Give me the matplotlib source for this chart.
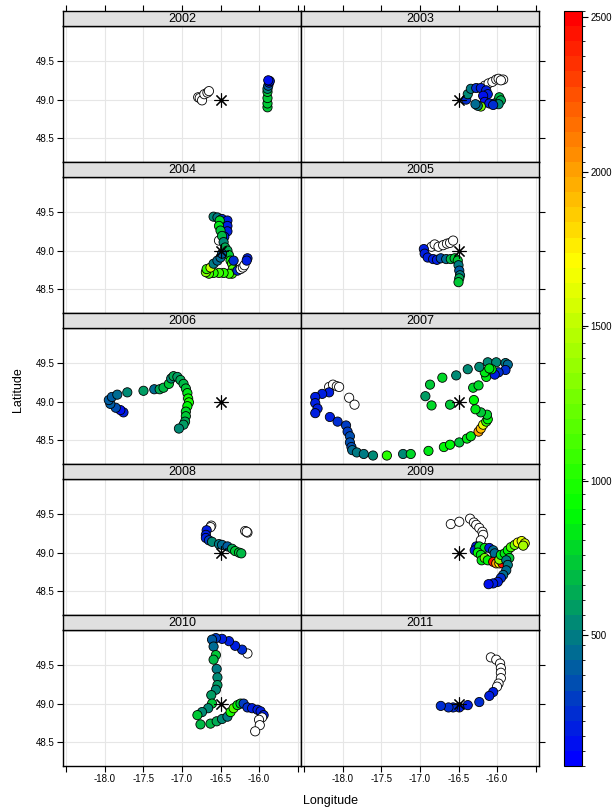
import numpy as np
import matplotlib
matplotlib.use("Agg")
import matplotlib.pyplot as plt
from matplotlib.colors import LinearSegmentedColormap, BoundaryNorm
from matplotlib.colorbar import ColorbarBase

plt.rcParams['font.family'] = ['Liberation Sans', 'DejaVu Sans']

nan = np.nan
STATION = (-16.5, 49.0)

##############################
# DATA (per year: lon, lat, value; nan = no value -> open circle)
##############################
lon_2002 = [-16.79, -16.77, -16.74, -16.71, -16.67, -16.65,
            -15.89, -15.89, -15.89, -15.89, -15.89, -15.88, -15.87, -15.86, -15.88]
lat_2002 = [49.03, 49.02, 48.99, 49.07, 49.09, 49.11,
            48.90, 48.95, 49.02, 49.10, 49.14, 49.18, 49.22, 49.24, 49.25]
val_2002 = [nan, nan, nan, nan, nan, nan,
            760, 760, 740, 720, 560, 400, 200, 180, 150]

lon_2003 = [-16.16, -16.11, -16.06, -16.01, -15.98, -15.92, -15.95,
            -16.40, -16.38, -16.34, -16.27, -16.21, -16.14, -16.12, -16.18, -16.16, -16.10,
            -16.03, -15.98, -15.97, -15.95, -15.98, -16.05, -16.21, -16.25, -16.28]
lat_2003 = [49.18, 49.21, 49.23, 49.26, 49.27, 49.26, 49.25,
            49.00, 49.07, 49.14, 49.15, 49.15, 49.12, 49.07, 49.05, 48.97, 48.95,
            48.95, 48.99, 49.03, 48.99, 48.94, 48.93, 48.91, 48.92, 48.94]
val_2003 = [nan, nan, nan, nan, nan, nan, nan,
            250, 520, 480, 230, 200, 210, 190, 170, 150, 180,
            200, 720, 680, 620, 520, 260, 1250, 480, 430]

lon_2004 = [-16.59, -16.54, -16.48, -16.41, -16.41, -16.41, -16.45, -16.48, -16.52,
            -16.51, -16.52, -16.50, -16.48, -16.46, -16.44, -16.41, -16.39, -16.37,
            -16.35, -16.34, -16.35, -16.39, -16.46, -16.52, -16.59, -16.65, -16.69,
            -16.68, -16.63, -16.59, -16.54, -16.50, -16.48, -16.33, -16.28, -16.24,
            -16.21, -16.19, -16.15, -16.16]
lat_2004 = [49.44, 49.43, 49.41, 49.39, 49.32, 49.25, 49.18, 49.14, 49.13,
            49.39, 49.32, 49.26, 49.19, 49.11, 49.04, 49.00, 48.94, 48.87,
            48.83, 48.76, 48.70, 48.70, 48.71, 48.71, 48.71, 48.70, 48.72,
            48.76, 48.78, 48.83, 48.87, 48.91, 48.96, 48.87, 48.74, 48.76,
            48.78, 48.81, 48.90, 48.87]
val_2004 = [520, 470, 260, 220, 210, 200, 190, 180, nan,
            800, 850, 760, 700, 560, 650, 620, 760, 950,
            1100, 1150, 1150, 1100, 1050, 1100, 1050, 1150, 1300,
            1100, 1500, 480, 430, 420, 380, 230, 250, nan,
            nan, nan, 220, 200]

lon_2005 = [-16.85, -16.81, -16.76, -16.70, -16.65, -16.61, -16.57,
            -16.95, -16.94, -16.90, -16.83, -16.78, -16.73, -16.66, -16.60,
            -16.55, -16.51, -16.50, -16.49, -16.48, -16.49, -16.50]
lat_2005 = [49.05, 49.08, 49.05, 49.07, 49.09, 49.10, 49.13,
            49.02, 48.96, 48.91, 48.89, 48.88, 48.90, 48.89, 48.89,
            48.90, 48.87, 48.81, 48.74, 48.68, 48.64, 48.59]
val_2005 = [nan, nan, nan, nan, nan, nan, nan,
            200, 190, 200, 210, 220, 330, 420, 680,
            720, 740, 470, 380, 500, 620, 760]

lon_2006 = [-17.76, -17.80, -17.86, -17.93, -17.95, -17.91, -17.84, -17.71, -17.50,
            -17.36, -17.29, -17.24, -17.17, -17.14, -17.11, -17.06, -17.02, -16.98,
            -16.95, -16.93, -16.92, -16.91, -16.93, -16.95, -16.95, -16.96, -16.98, -17.04]
lat_2006 = [48.86, 48.89, 48.92, 48.97, 49.02, 49.06, 49.09, 49.12, 49.14,
            49.16, 49.16, 49.18, 49.23, 49.30, 49.33, 49.32, 49.28, 49.23,
            49.17, 49.11, 49.04, 48.99, 48.94, 48.87, 48.81, 48.74, 48.70, 48.65]
val_2006 = [180, 160, 360, 380, 390, 400, 420, 560, 600,
            450, 660, 700, 760, 560, 620, 600, 640, 700,
            760, 820, 950, 1000, 900, 800, 740, 660, 600, 560]

lon_2007 = [-18.18, -18.13, -18.08, -18.05, -17.92, -17.85,
            -18.18, -18.27, -18.36, -18.36, -18.33, -18.36, -18.17, -18.07, -17.96, -17.94,
            -17.91, -17.91, -17.89, -17.88, -17.82, -17.73, -17.61, -17.43, -17.22, -17.12,
            -16.89, -16.69, -16.61, -16.49, -16.39, -16.34, -16.24, -16.21, -16.18, -16.14,
            -16.12, -16.13, -16.21, -16.28, -16.30, -16.31, -16.24, -16.14, -16.16, -16.23,
            -16.12, -16.01, -15.89, -15.86, -15.89, -15.98, -16.03, -16.07, -16.10,
            -16.93, -16.87, -16.85, -16.71, -16.61, -16.53, -16.38]
lat_2007 = [49.19, 49.22, 49.20, 49.19, 49.05, 48.96,
            49.12, 49.10, 49.06, 48.98, 48.91, 48.85, 48.80, 48.74, 48.69, 48.61,
            48.55, 48.47, 48.41, 48.37, 48.34, 48.32, 48.30, 48.30, 48.32, 48.32,
            48.36, 48.41, 48.44, 48.47, 48.52, 48.55, 48.61, 48.65, 48.70, 48.74,
            48.77, 48.83, 48.86, 48.90, 49.02, 49.18, 49.21, 49.32, 49.38, 49.45,
            49.51, 49.51, 49.50, 49.48, 49.41, 49.38, 49.35, 49.42, 49.43,
            49.07, 49.22, 48.95, 49.31, 48.96, 49.34, 49.42]
val_2007 = [nan, nan, nan, nan, nan, nan,
            190, 200, 190, 180, 200, 210, 220, 250, 300, 320,
            330, 340, 350, 420, 470, 480, 520, 1050, 560, 800,
            820, 860, 880, 760, 820, 850, 2000, 1900, 1600, 1100,
            860, 780, 760, 820, 860, 800, 780, 820, 850, 560,
            560, 540, 480, 420, 250, 230, 220, 900, 850,
            580, 760, 780, 800, 760, 560, 560]

lon_2008 = [-16.62, -16.63, -16.18, -16.15, -16.16,
            -16.68, -16.69, -16.69, -16.65, -16.61, -16.52, -16.48, -16.41, -16.35,
            -16.31, -16.26, -16.23]
lat_2008 = [49.35, 49.33, 49.28, 49.26, 49.27,
            49.29, 49.23, 49.19, 49.16, 49.14, 49.11, 49.10, 49.08, 49.05,
            49.02, 49.00, 48.99]
val_2008 = [nan, nan, nan, nan, nan,
            180, 190, 200, 300, 520, 500, 460, 380, 640,
            720, 740, 700]

lon_2009 = [-16.60, -16.49, -16.35, -16.30, -16.27, -16.23, -16.19, -16.18, -16.21,
            -16.27, -16.29, -16.23, -16.16, -16.10, -16.05, -16.03, -16.25, -16.21,
            -16.20, -16.16, -16.12, -16.05, -16.01, -15.97, -15.93, -15.97, -15.95,
            -15.90, -15.86, -15.84, -15.82, -15.77, -15.73, -15.68, -15.64, -15.66,
            -15.88, -15.86, -15.88, -15.92, -15.95, -15.99, -16.05, -16.11]
lat_2009 = [49.37, 49.40, 49.44, 49.39, 49.36, 49.32, 49.27, 49.23, 49.16,
            49.08, 49.03, 49.08, 49.06, 49.06, 49.03, 48.99, 49.00, 48.97,
            48.90, 48.93, 48.90, 48.88, 48.86, 48.86, 48.86, 48.91, 48.97,
            48.99, 49.03, 48.93, 49.07, 49.10, 49.13, 49.15, 49.12, 49.09,
            48.90, 48.84, 48.77, 48.71, 48.67, 48.62, 48.60, 48.59]
val_2009 = [nan, nan, nan, nan, nan, nan, nan, nan, nan,
            180, 200, 800, 820, 200, 460, 450, 900, 850,
            820, 1250, 900, 2450, 2000, 1700, 2450, 1300, 850,
            820, 900, 750, 1150, 1250, 1650, 1600, 1550, 1400,
            480, 470, 450, 420, 260, 200, 180, 150]

lon_2010 = [-16.15, -16.22, -16.31, -16.39, -16.48, -16.56, -16.61, -16.59, -16.56,
            -16.59, -16.55, -16.54, -16.54, -16.56, -16.62, -16.61, -16.66, -16.74,
            -16.80, -16.76, -16.63, -16.55, -16.48, -16.41, -16.37, -16.33, -16.28,
            -16.24, -16.20, -16.15, -16.09, -16.02, -15.98, -15.94, -15.96, -16.00,
            -15.99, -16.05]
lat_2010 = [49.65, 49.70, 49.75, 49.81, 49.84, 49.85, 49.83, 49.74, 49.63,
            49.57, 49.45, 49.34, 49.24, 49.18, 49.11, 49.00, 48.94, 48.89,
            48.85, 48.73, 48.74, 48.77, 48.80, 48.83, 48.89, 48.94, 48.98,
            49.00, 49.00, 48.95, 48.94, 48.92, 48.90, 48.85, 48.82, 48.79,
            48.72, 48.64]
val_2010 = [nan, 230, 220, 210, 200, 300, 400, 420, 760,
            700, 470, 530, 580, 560, 600, 760, 560, 560,
            760, 700, 680, 650, 520, 480, 1000, 1200, 900,
            720, 280, 250, 200, 190, 180, 200, nan, nan,
            nan, nan]

lon_2011 = [-16.08, -16.01, -15.96, -15.95, -15.95, -15.95, -15.98, -16.00,
            -16.05, -16.10, -16.23, -16.38, -16.49, -16.57, -16.63, -16.73]
lat_2011 = [49.60, 49.57, 49.52, 49.46, 49.40, 49.33, 49.26, 49.22,
            49.15, 49.10, 49.02, 48.98, 48.95, 48.95, 48.95, 48.97]
val_2011 = [nan, nan, nan, nan, nan, nan, nan, nan,
            220, 210, 230, 220, 200, 230, 240, 250]

years = [2002, 2003, 2004, 2005, 2006, 2007, 2008, 2009, 2010, 2011]
lons = [lon_2002, lon_2003, lon_2004, lon_2005, lon_2006, lon_2007, lon_2008, lon_2009, lon_2010, lon_2011]
lats = [lat_2002, lat_2003, lat_2004, lat_2005, lat_2006, lat_2007, lat_2008, lat_2009, lat_2010, lat_2011]
vals = [val_2002, val_2003, val_2004, val_2005, val_2006, val_2007, val_2008, val_2009, val_2010, val_2011]

x_ticks = [-18.5, -18.0, -17.5, -17.0, -16.5, -16.0, -15.5]
x_labels = ['', '-18.0', '-17.5', '-17.0', '-16.5', '-16.0', '']
y_ticks = [48.5, 49.0, 49.5]
cbar_ticks = [500, 1000, 1500, 2000, 2500]
vmin, vmax = 78, 2519

##############################
# LAYOUT (pixel boxes)
##############################
W, H = 612, 809
XLIM = (-18.545, -15.455)
YLIM = (48.19, 49.955)


def box(x, y, w, h):
    return [x / W, 1 - (y + h) / H, w / W, h / H]


cmap = LinearSegmentedColormap.from_list('bgyr', ['#0000ff', '#00ff00', '#ffff00', '#ff0000'])
norm = BoundaryNorm(np.linspace(vmin, vmax, 51), cmap.N)

fig = plt.figure(figsize=(W / 100, H / 100), dpi=100)

col_x = [63, 301]
col_w = 238
row_h = 151
panel_h = 136
strip_h = 15

for i, year in enumerate(years):
    r, c = divmod(i, 2)
    top = 11 + r * row_h
    ax = fig.add_axes(box(col_x[c], top + strip_h, col_w, panel_h))
    st = fig.add_axes(box(col_x[c], top, col_w, strip_h))

    # panel
    ax.set_xlim(XLIM)
    ax.set_ylim(YLIM)
    for v in x_ticks:
        ax.axvline(v, color='#e6e6e6', lw=0.8, zorder=0)
    for v in y_ticks:
        ax.axhline(v, color='#e6e6e6', lw=0.8, zorder=0)

    lon = np.array(lons[i])
    lat = np.array(lats[i])
    val = np.array(vals[i], dtype=float)
    face = [(1, 1, 1, 1) if np.isnan(v) else cmap(norm(v)) for v in val]
    ax.scatter(lon, lat, c=face, s=44, edgecolors='black', linewidths=0.6, zorder=2)
    ax.plot(*STATION, marker=(8, 2, 0), ms=10, color='black', mew=0.8, zorder=3)

    ax.tick_params(direction='out', length=4, width=0.8, labelsize=7, colors='black', pad=2)
    ax.set_xticks(x_ticks)
    if r == 4:
        ax.set_xticklabels(x_labels)
    else:
        ax.tick_params(axis='x', bottom=False, labelbottom=False)
    ax.set_yticks(y_ticks)
    if c == 0:
        ax.set_yticklabels(['48.5', '49.0', '49.5'])
    else:
        ax.tick_params(axis='y', left=False, labelleft=False, right=True, labelright=False)
    for s in ax.spines.values():
        s.set_linewidth(1.0)

    # strip
    st.set_facecolor('#e0e0e0')
    st.set_xlim(XLIM)
    st.set_yticks([])
    st.text(0.5, 0.45, str(year), ha='center', va='center', fontsize=9, transform=st.transAxes)
    if r == 0:
        st.set_xticks(x_ticks)
        st.tick_params(axis='x', bottom=False, top=True, labelbottom=False,
                       direction='out', length=4, width=0.8)
    else:
        st.set_xticks([])
    for s in st.spines.values():
        s.set_linewidth(1.0)

# colour key
cax = fig.add_axes(box(564, 11, 18, 755))
cb = ColorbarBase(cax, cmap=cmap, norm=norm, ticks=cbar_ticks, spacing='proportional')
cb.outline.set_linewidth(0.8)
cax.tick_params(labelsize=7, length=4, width=0.8, pad=2)

fig.text(330 / W, 1 - 801 / H, 'Longitude', ha='center', va='center', fontsize=9)
fig.text(18 / W, 1 - 390 / H, 'Latitude', ha='center', va='center', fontsize=9, rotation=90)

fig.savefig('out.png', dpi=100)
